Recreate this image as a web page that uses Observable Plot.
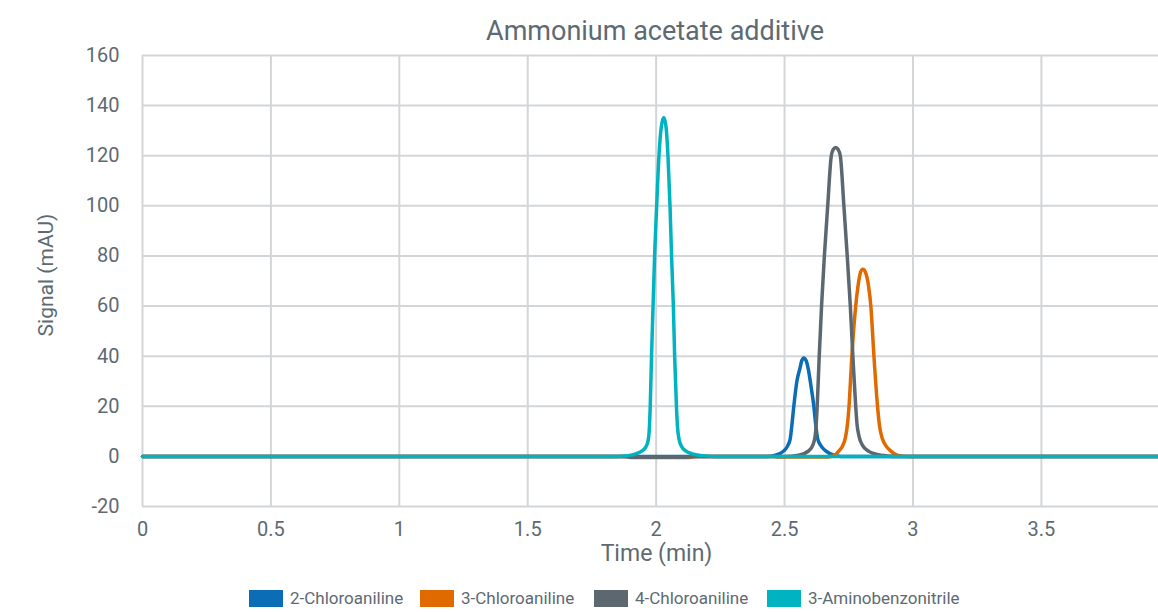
<!DOCTYPE html>
<html>
<head>
<meta charset="utf-8">
<script src="https://cdn.jsdelivr.net/npm/d3@7"></script>
<script src="https://cdn.jsdelivr.net/npm/@observablehq/plot@0.6"></script>
<style>
  html, body { margin: 0; padding: 0; background: #fff; overflow: hidden; }
  #wrap { position: relative; width: 1158px; height: 612px; font-family: Roboto, "Noto Sans", sans-serif; color: #5e6a72; }
  #title { position: absolute; top: 18px; left: 152px; width: 1006px; text-align: center; font-size: 27px; line-height: 1; white-space: nowrap; }
  #chart { position: absolute; top: 45px; left: 0; }
  #legend { position: absolute; top: 590px; left: 249px; display: flex; align-items: center; font-size: 17px; line-height: 17px; white-space: nowrap; }
  .item { display: flex; align-items: center; }
  .sw { width: 34px; height: 17px; margin-right: 7px; }
</style>
</head>
<body>
<div id="wrap">
  <div id="title"></div>
  <div id="chart"></div>
  <div id="legend"></div>
</div>
<script>
const titleText = "Ammonium acetate additive";
const xLabel = "Time (min)";
const yLabel = "Signal (mAU)";

const names = ["2-Chloroaniline", "3-Chloroaniline", "4-Chloroaniline", "3-Aminobenzonitrile"];
const colors = ["#0a6db5", "#e06a00", "#5c6770", "#00b3c1"];

const xTicks = [0, 0.5, 1, 1.5, 2, 2.5, 3, 3.5];
const yTicks = [-20, 0, 20, 40, 60, 80, 100, 120, 140, 160];

// 2-Chloroaniline
const chloro2Time   = [0, 2.43, 2.465, 2.497, 2.512, 2.522, 2.528, 2.536, 2.548, 2.560, 2.567, 2.575, 2.584, 2.592, 2.603, 2.614, 2.622, 2.629, 2.642, 2.660, 2.692, 2.72, 3.956];
const chloro2Signal = [0, 0,    0.5,   2.2,   4.2,   7,     12,    20,    30,    35.2,  38.2,  39.3,  38.2,  35,    28,    20,    12,    7,     4.2,   2.2,   0.5,   0,    0];

// 3-Chloroaniline
const chloro3Time   = [0, 1.88, 1.90, 2.13, 2.16, 2.45, 2.47, 2.67, 2.692, 2.712, 2.726, 2.737, 2.744, 2.751, 2.762, 2.777, 2.786, 2.796, 2.805, 2.815, 2.827, 2.836, 2.848, 2.862, 2.870, 2.881, 2.895, 2.913, 2.939, 2.98, 3.956];
const chloro3Signal = [0, 0,    -0.4, -0.4, 0,    0,    -0.2, -0.2, 0.3,   2.2,   4.2,   7.5,   12,    20,    40,    60,    68,    73.5,  74.7,  73.5,  68,    60,    40,    20,    12,    7,     4.2,   2.2,   0.5,   0,    0];

// 4-Chloroaniline
const chloro4Time   = [0, 1.88, 1.90, 2.12, 2.15, 2.50, 2.555, 2.594, 2.610, 2.619, 2.623, 2.627, 2.635, 2.644, 2.655, 2.668, 2.682, 2.690, 2.699, 2.708, 2.717, 2.731, 2.744, 2.756, 2.766, 2.777, 2.782, 2.790, 2.803, 2.828, 2.86, 2.90, 2.93, 3.956];
const chloro4Signal = [0, 0,    -0.3, -0.3, 0,    0,    0.5,   2.2,   4.5,   8,     12.5,  20,    40,    60,    80,    100,   120,   122.6, 123.3, 122.6, 120,   100,   80,    60,    40,    20,    13,    8,     4.5,   2.0,   0.8,  0.2,  0,    0];

// 3-Aminobenzonitrile
const aminoTime   = [0, 1.85, 1.89, 1.92, 1.945, 1.960, 1.9695, 1.974, 1.977, 1.982, 1.988, 1.994, 2.002, 2.011, 2.020, 2.030, 2.039, 2.046, 2.054, 2.060, 2.067, 2.072, 2.079, 2.083, 2.0895, 2.100, 2.115, 2.141, 2.18, 2.22, 3.956];
const aminoSignal = [0, 0,    0.3,  1.0,  2.2,   3.8,   6.7,    12,    20,    40,    60,    80,    100,   120,   131.5, 135.3, 131,   120,   100,   80,    60,    40,    20,    12,    6.7,    3.8,   2.2,   1.0,   0.3,  0,    0];

const seriesTime = [chloro2Time, chloro3Time, chloro4Time, aminoTime];
const seriesSignal = [chloro2Signal, chloro3Signal, chloro4Signal, aminoSignal];

const data = names.flatMap((name, i) =>
  seriesTime[i].map((t, j) => ({name, t, v: seriesSignal[i][j]}))
);

const textColor = "#5e6a72";
const gridColor = "#d3d6d9";

document.getElementById("title").textContent = titleText;

const chart = Plot.plot({
  width: 1158,
  height: 531,
  marginLeft: 142,
  marginRight: 0,
  marginTop: 10,
  marginBottom: 70,
  style: {fontFamily: "Roboto, 'Noto Sans', sans-serif", color: textColor, background: "transparent", overflow: "visible"},
  x: {domain: [0, 3.956]},
  y: {domain: [-20, 160]},
  color: {domain: names, range: colors},
  marks: [
    Plot.ruleY(yTicks, {stroke: gridColor, strokeWidth: 2}),
    Plot.ruleX(xTicks, {stroke: gridColor, strokeWidth: 2}),
    Plot.axisY({ticks: yTicks, tickSize: 0, tickPadding: 23, fontSize: 20, label: null, tickFormat: d => String(d), fill: textColor}),
    Plot.axisX({ticks: xTicks, tickSize: 0, tickPadding: 15, fontSize: 20, label: null, tickFormat: d => String(d), fill: textColor}),
    Plot.line(data, {x: "t", y: "v", z: "name", stroke: "name", strokeWidth: 3.5, curve: "monotone-x"}),
    Plot.text([xLabel], {text: d => d, frameAnchor: "bottom", lineAnchor: "middle", textAnchor: "middle", dx: 6, dy: 47, fontSize: 23, fill: textColor}),
    Plot.text([yLabel], {text: d => d, frameAnchor: "left", lineAnchor: "middle", textAnchor: "middle", rotate: -90, dx: -96, dy: -6, fontSize: 21, fill: textColor})
  ]
});
document.getElementById("chart").appendChild(chart);

const legendWidths = [171, 174, 173, 200];
const legend = document.getElementById("legend");
names.forEach((name, i) => {
  const item = document.createElement("div");
  item.className = "item";
  item.style.width = legendWidths[i] + "px";
  const sw = document.createElement("div");
  sw.className = "sw";
  sw.style.background = colors[i];
  const label = document.createElement("span");
  label.textContent = name;
  item.appendChild(sw);
  item.appendChild(label);
  legend.appendChild(item);
});
</script>
</body>
</html>
